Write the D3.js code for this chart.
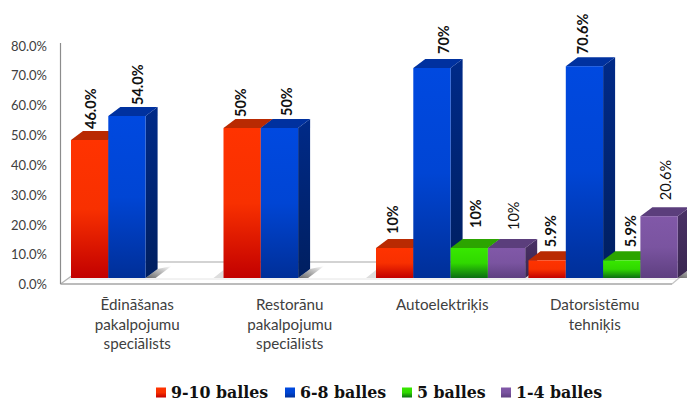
<!DOCTYPE html>
<html>
<head>
<meta charset="UTF-8">
<title>Balles</title>
<script src="https://d3js.org/d3.v7.min.js"></script>
<style>
    html, body { margin: 0; padding: 0; background: #fff; }
    svg { display: block; }
    .tick-label { font-family: Lato, "Open Sans", sans-serif; font-size: 13px; fill: #404040; }
    .cat-label { font-family: Lato, "Open Sans", sans-serif; font-size: 15.2px; fill: #404040; }
    .val-label { font-family: Lato, "Open Sans", sans-serif; font-size: 14.5px; fill: #111; }
    .leg-label { font-family: "DejaVu Serif", serif; font-size: 15.8px; font-weight: bold; fill: #111; }
</style>
</head>
<body>
<svg id="chart" width="687" height="401"></svg>
<script>
const categories = ['Ēdināšanas pakalpojumu speciālists', 'Restorānu pakalpojumu speciālists', 'Autoelektriķis', 'Datorsistēmu tehniķis'];
const categoryLines = [['Ēdināšanas', 'pakalpojumu', 'speciālists'], ['Restorānu', 'pakalpojumu', 'speciālists'], ['Autoelektriķis'], ['Datorsistēmu', 'tehniķis']];
const seriesNames = ['9-10 balles', '6-8 balles', '5 balles', '1-4 balles'];
const series0 = [46.0, 50, 10, 5.9];
const series1 = [54.0, 50, 70, 70.6];
const series2 = [null, null, 10, 5.9];
const series3 = [null, null, 10, 20.6];
const allSeries = [series0, series1, series2, series3];
const labels0 = ['46.0%', '50%', '10%', '5.9%'];
const labels1 = ['54.0%', '50%', '70%', '70.6%'];
const labels2 = [null, null, '10%', '5.9%'];
const labels3 = [null, null, '10%', '20.6%'];
const allLabels = [labels0, labels1, labels2, labels3];
const yTicks = [0, 10, 20, 30, 40, 50, 60, 70, 80];

// layout only: the value labels were placed by hand in the original
const boldLabels = [[true, true, true, true], [true, true, true, true], [false, false, true, true], [false, false, false, false]];
const labelShiftX = [[1.5, -1, -1.5, 3.5], [10.5, 7.5, 11.5, -2], [0, 0, 6.5, 9.5], [0, 0, 7.5, 6.5]];
const labelGap = [[11, 11, 14, 13], [11, 12, 14, 12], [0, 0, 20, 13], [0, 0, 18, 16]];

const svg = d3.select('#chart');
const defs = svg.append('defs');

const palette = [
    { top: '#ff3300', mid: '#f83000', bottom: '#c20000', roof: '#b92a02', side: '#8a1c00' },
    { top: '#0049e0', mid: '#0045d4', bottom: '#002f98', roof: '#00319f', side: '#002a88', sideBottom: '#001f60' },
    { top: '#38e800', mid: '#30d800', bottom: '#0b6d12', roof: '#2ca400', side: '#1c7a00' },
    { top: '#8158a8', mid: '#7a54a0', bottom: '#5e3f80', roof: '#5b3e7c', side: '#4a3166', sideBottom: '#3a2750' }
];

palette.forEach((p, i) => {
    const g = defs.append('linearGradient').attr('id', 'front' + i).attr('x1', 0).attr('y1', 0).attr('x2', 0).attr('y2', 1);
    g.append('stop').attr('offset', '0%').attr('stop-color', p.top);
    g.append('stop').attr('offset', '50%').attr('stop-color', p.mid);
    g.append('stop').attr('offset', '100%').attr('stop-color', p.bottom);
    const s = defs.append('linearGradient').attr('id', 'side' + i).attr('x1', 0).attr('y1', 0).attr('x2', 0).attr('y2', 1);
    s.append('stop').attr('offset', '0%').attr('stop-color', p.side);
    s.append('stop').attr('offset', '100%').attr('stop-color', p.sideBottom || p.side);
});

const shadow = defs.append('linearGradient').attr('id', 'shadow').attr('x1', 0).attr('y1', 1).attr('x2', 1).attr('y2', 0);
shadow.append('stop').attr('offset', '0%').attr('stop-color', '#666');
shadow.append('stop').attr('offset', '100%').attr('stop-color', '#fff');

// the bars stand back from the front of the floor, the labels sit on the front
const depthX = 12, depthY = 9;
const y = d3.scaleLinear().domain([0, 80]).range([278, 38]);
const yAxisScale = d3.scaleLinear().domain([0, 80]).range([284.5, 46]);
const x = d3.scaleBand().domain(categories).range([69.35, 679.35]).paddingInner(0.0216).paddingOuter(0.0108);
const xInner = d3.scaleBand().domain(d3.range(4)).range([0, x.bandwidth()]);
const xLabel = d3.scaleBand().domain(categories).range([61, 671]);

// floor and walls
const floor = svg.append('g');
const x0 = 60.5, x1 = 672, yFront = 284;
floor.append('line').attr('x1', x0 + 11).attr('x2', x1 + 12).attr('y1', 262).attr('y2', 262)
    .attr('stroke', '#c4c4c4').attr('stroke-width', 1.5);
floor.append('line').attr('x1', x0 + 8).attr('x2', x1 + 4).attr('y1', 279).attr('y2', 279)
    .attr('stroke', '#e4e4e4').attr('stroke-width', 1);
floor.append('line').attr('x1', x0).attr('x2', x0 + 11).attr('y1', yFront).attr('y2', yFront - 8)
    .attr('stroke', '#b4b4b4').attr('stroke-width', 1.2);
floor.append('line').attr('x1', x1).attr('x2', x1 + 14).attr('y1', yFront).attr('y2', yFront - 12)
    .attr('stroke', '#c4c4c4').attr('stroke-width', 1.2);
floor.append('line').attr('x1', x0).attr('x2', x1).attr('y1', yFront).attr('y2', yFront)
    .attr('stroke', '#a6a6a6').attr('stroke-width', 1.5);
floor.append('line').attr('x1', x0).attr('x2', x0).attr('y1', 43).attr('y2', yFront)
    .attr('stroke', '#8c8c8c').attr('stroke-width', 1.2);

const yAxis = d3.axisLeft(yAxisScale).tickValues(yTicks).tickFormat(d => d.toFixed(1) + '%').tickSize(0).tickPadding(0);
const yAxisG = svg.append('g').attr('transform', 'translate(47,0)').call(yAxis);
yAxisG.select('.domain').remove();
yAxisG.selectAll('text').attr('class', 'tick-label');

// shadows on the floor
categories.forEach((c, ci) => {
    const last = d3.max(d3.range(4).filter(s => allSeries[s][ci] !== null));
    const left = x(c), right = x(c) + xInner(last) + xInner.bandwidth();
    svg.append('path')
        .attr('d', `M${right},${y(0)}L${right + depthX},${y(0) - depthY}L${right + 26},${y(0) - depthY - 3}L${right + 10},${y(0)}Z`)
        .attr('fill', 'url(#shadow)');
    if (ci > 0) {
        svg.append('path')
            .attr('d', `M${left},${y(0)}L${left - 10},${y(0)}L${left},${y(0) - 8}Z`)
            .attr('fill', '#ddd');
    }
});

// bars, back pieces first so the next bar covers them
const flat = [];
allSeries.forEach((vals, s) => vals.forEach((v, c) => { if (v !== null) flat.push({ s, c, v }); }));
flat.sort((a, b) => a.c - b.c || a.s - b.s);

const bars = svg.selectAll('.bar').data(flat).enter().append('g').attr('class', 'bar')
    .attr('transform', d => `translate(${x(categories[d.c]) + xInner(d.s)},0)`);
const bw = xInner.bandwidth();

bars.append('path')
    .attr('d', d => `M${bw},${y(d.v)}l${depthX},${-depthY}V${y(0) - depthY}l${-depthX},${depthY}Z`)
    .attr('fill', d => `url(#side${d.s})`);
bars.append('path')
    .attr('d', d => `M0,${y(d.v)}l${depthX},${-depthY}h${bw}l${-depthX},${depthY}Z`)
    .attr('fill', d => palette[d.s].roof);
bars.append('rect')
    .attr('x', 0)
    .attr('width', bw)
    .attr('y', d => y(d.v))
    .attr('height', d => y(0) - y(d.v))
    .attr('fill', d => `url(#front${d.s})`);

// value labels, turned to read upwards
svg.selectAll('.val-label').data(flat).enter().append('text')
    .attr('class', 'val-label')
    .attr('text-anchor', 'start')
    .attr('dy', '0.35em')
    .style('font-weight', d => boldLabels[d.s][d.c] ? 700 : 400)
    .attr('transform', d => {
        const cx = x(categories[d.c]) + xInner(d.s) + bw / 2 + labelShiftX[d.s][d.c];
        return `translate(${cx},${y(d.v) - labelGap[d.s][d.c]}) rotate(-90)`;
    })
    .text(d => allLabels[d.s][d.c]);

// category labels
const catG = svg.selectAll('.cat').data(categories).enter().append('g').attr('class', 'cat')
    .attr('transform', d => `translate(${xLabel(d) + xLabel.bandwidth() / 2},0)`);
catG.each(function(d, i) {
    d3.select(this).selectAll('text').data(categoryLines[i]).enter().append('text')
        .attr('class', 'cat-label')
        .attr('text-anchor', 'middle')
        .attr('y', (l, n) => 310 + n * 19.5)
        .text(l => l);
});

// legend
const legendX = [156, 285, 402, 501];
const legend = svg.selectAll('.leg').data(seriesNames).enter().append('g').attr('class', 'leg')
    .attr('transform', (d, i) => `translate(${legendX[i]},387.5)`);
legend.append('rect').attr('x', 0).attr('y', 0).attr('width', 10).attr('height', 10)
    .attr('fill', (d, i) => `url(#front${i})`);
legend.append('text').attr('class', 'leg-label').attr('x', 15).attr('y', 10.5).text(d => d);
</script>
</body>
</html>
